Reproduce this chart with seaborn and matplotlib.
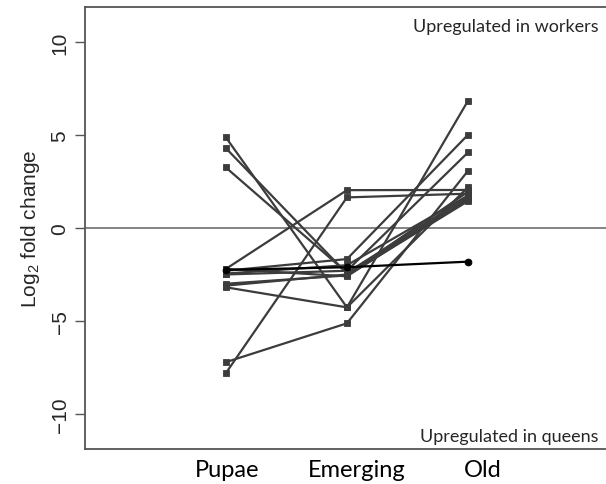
import numpy as np
import pandas as pd
import matplotlib
matplotlib.use('Agg')
import matplotlib.pyplot as plt
import seaborn as sns

# stages and log2 fold change per gene (pupae, emerging, old)
stages = ['Pupae', 'Emerging', 'Old']
gene_ids = ['g01', 'g02', 'g03', 'g04', 'g05', 'g06', 'g07',
            'g08', 'g09', 'g10', 'g11', 'g12', 'g13']
pupae    = [4.88, 4.30, 3.26, -2.20, -7.81, -7.22, -3.19,
            -2.30, -2.50, -3.00, -2.20, -3.10, -2.45]
emerging = [-4.27, -2.45, -2.40, 2.04, 1.65, -5.13, -4.27,
            -1.67, -2.30, -2.55, -2.60, -2.50, -2.00]
old      = [6.85, 1.55, 1.70, 2.05, 1.85, 3.08, 2.20,
            5.02, 4.07, 1.45, 1.60, 1.95, 1.75]

# the one gene drawn in black
black_gene = [-2.25, -2.11, -1.81]

yticks = [-10, -5, 0, 5, 10]
label_shift = [0.01, 0.08, 0.12]

df = pd.DataFrame({
    'gene': np.repeat(gene_ids, 3),
    'stage': np.tile(np.arange(3), len(gene_ids)),
    'lfc': np.column_stack([pupae, emerging, old]).ravel(),
})
df_black = pd.DataFrame({'gene': 'black', 'stage': np.arange(3), 'lfc': black_gene})

sns.set_style('white')
plt.rcParams['font.family'] = ['Liberation Sans', 'DejaVu Sans']
plt.rcParams['mathtext.fontset'] = 'custom'
plt.rcParams['mathtext.rm'] = 'Liberation Sans'
plt.rcParams['mathtext.it'] = 'Liberation Sans'

fig = plt.figure(figsize=(6.06, 4.85), dpi=100)
ax = fig.add_axes([0.140, 0.072, 0.860, 0.9115])

ax.axhline(0, color='#7a7a7a', lw=1.3, zorder=1)

sns.lineplot(data=df, x='stage', y='lfc', units='gene', estimator=None,
             color='#3c3c3c', lw=1.6, marker='s', markersize=4.8,
             markeredgecolor='#3c3c3c', markeredgewidth=0.6, ax=ax, zorder=3)
sns.lineplot(data=df_black, x='stage', y='lfc', units='gene', estimator=None,
             color='black', lw=1.6, marker='o', markersize=4.8,
             markeredgecolor='black', ax=ax, zorder=4)

ax.set_xlim(-1.165, 3.14)
ax.set_ylim(-11.9, 11.9)

ax.set_xticks([i + s for i, s in enumerate(label_shift)])
ax.set_xticklabels(stages, family=['Lato', 'DejaVu Sans'], fontsize=17)
ax.tick_params(axis='x', length=0, pad=7, colors='black')

ax.set_yticks(yticks)
ax.set_yticklabels([str(t).replace('-', '\u2212') for t in yticks],
                   rotation=90, va='center', fontsize=15)
ax.tick_params(axis='y', length=7, width=1, color='#555555', pad=4, left=True)

ax.set_xlabel('')
ax.set_ylabel('Log$_2$ fold change', fontsize=15, labelpad=6)

for side in ['left', 'top', 'bottom']:
    ax.spines[side].set_visible(True)
    ax.spines[side].set_color('#555555')
    ax.spines[side].set_linewidth(1.3)
ax.spines['right'].set_visible(False)

ax.text(0.985, 0.975, 'Upregulated in workers', transform=ax.transAxes,
        ha='right', va='top', fontsize=13, family=['Lato', 'DejaVu Sans'])
ax.text(0.985, 0.012, 'Upregulated in queens', transform=ax.transAxes,
        ha='right', va='bottom', fontsize=13, family=['Lato', 'DejaVu Sans'])

fig.savefig('out.png', dpi=100)
